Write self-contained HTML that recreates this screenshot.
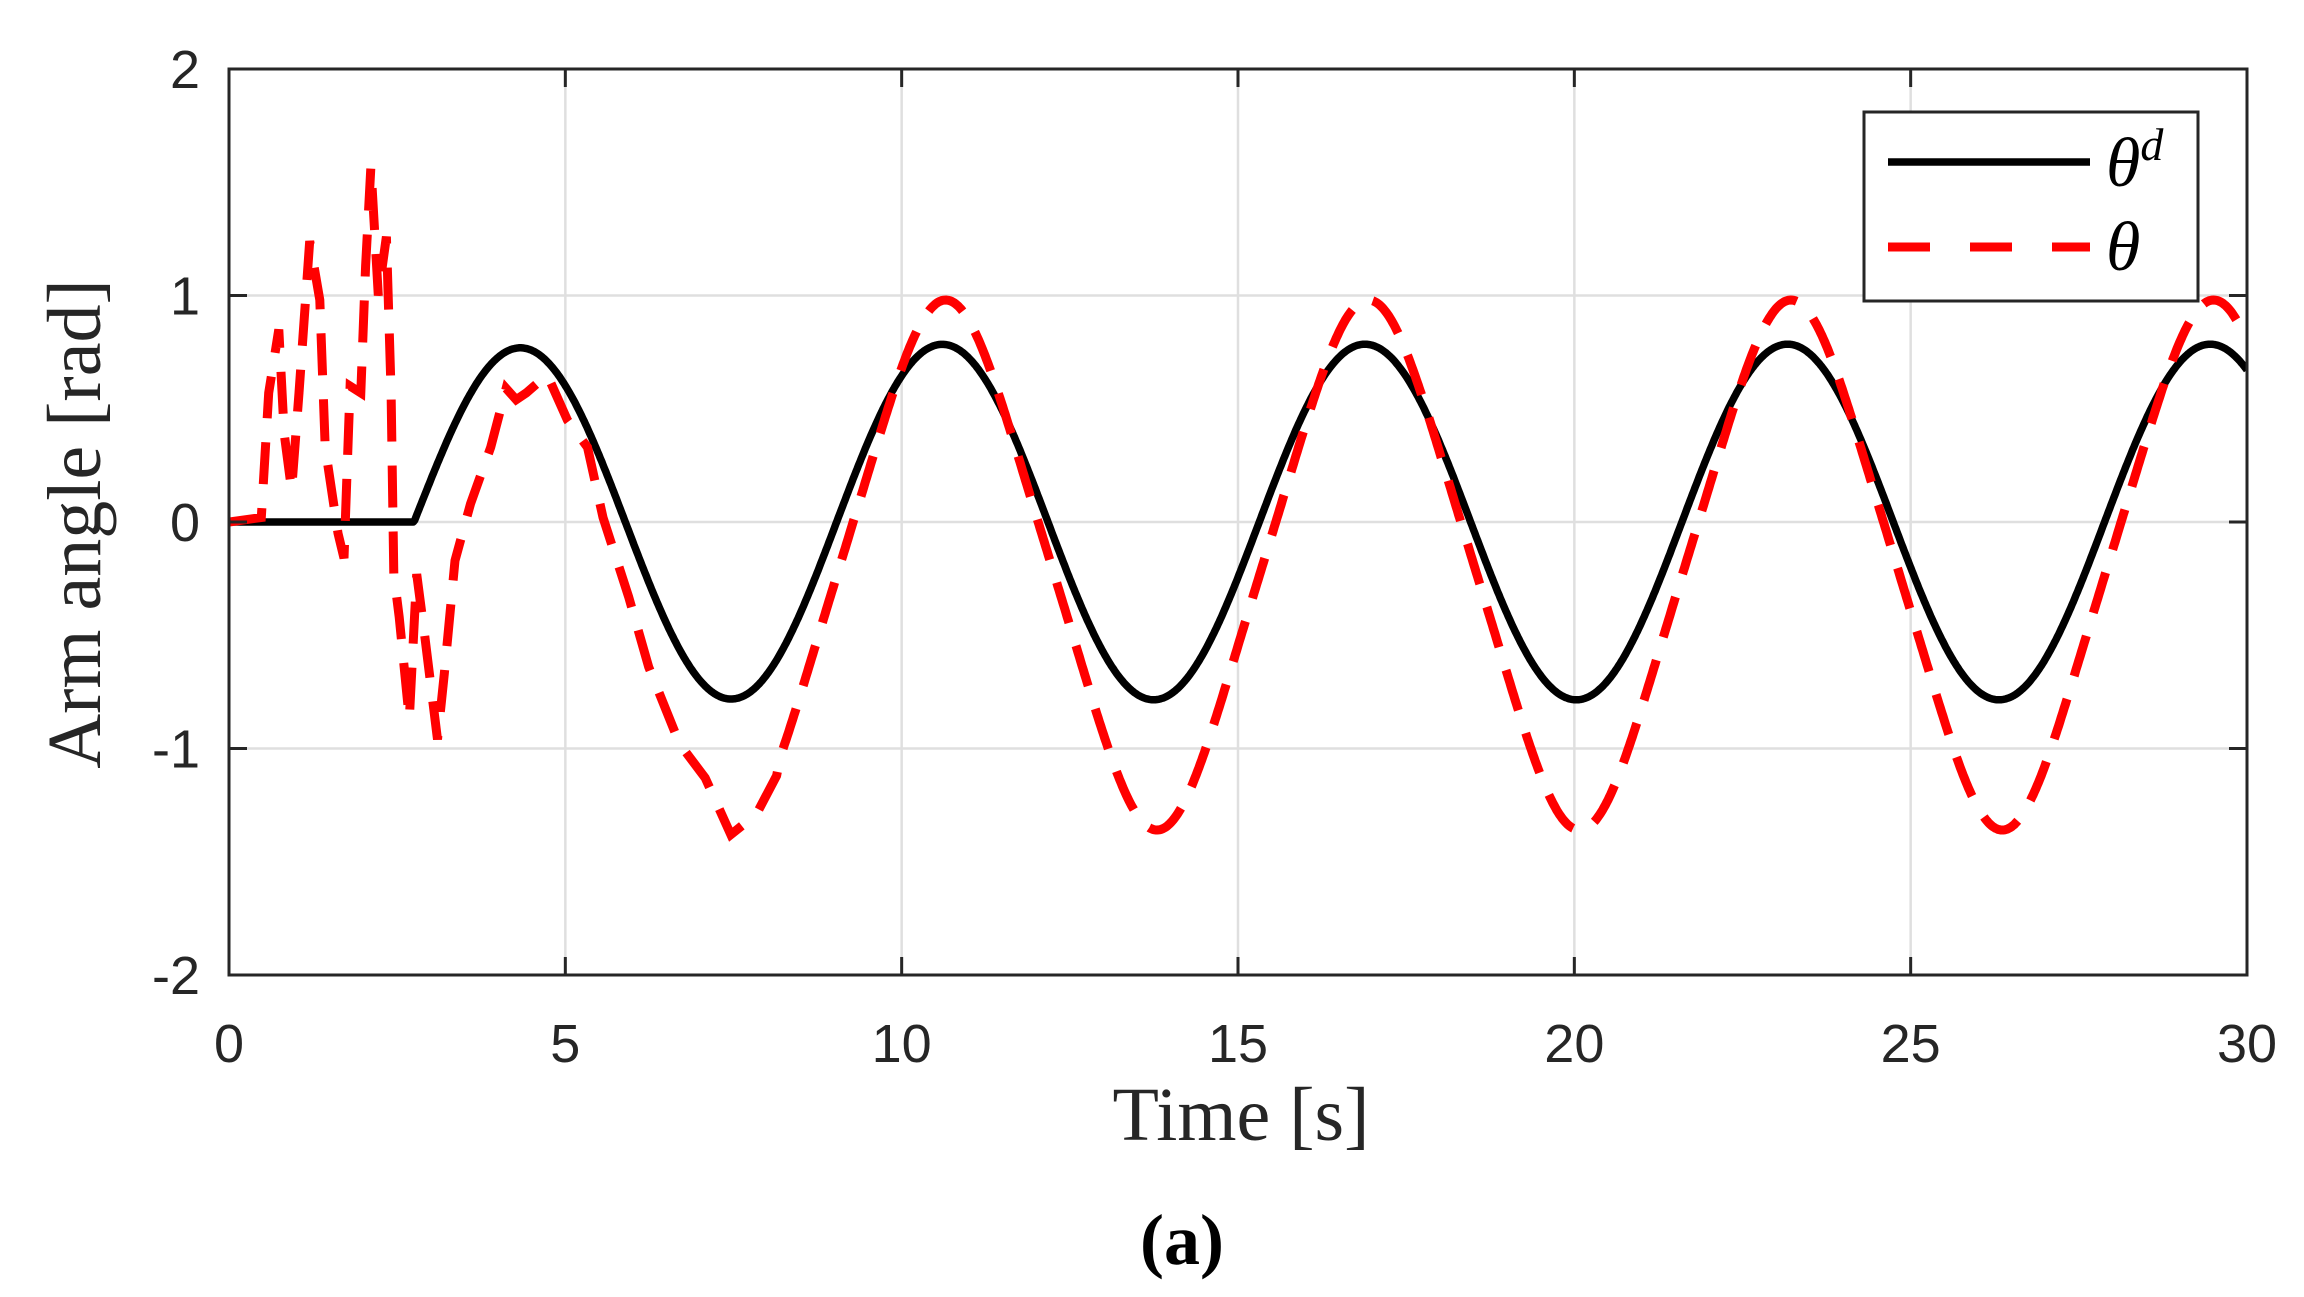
<!DOCTYPE html>
<html><head><meta charset="utf-8"><style>
html,body{margin:0;padding:0;background:#fff;width:2304px;height:1297px;overflow:hidden}
</style></head><body>
<svg id="s" width="2304" height="1297" xmlns="http://www.w3.org/2000/svg">
<defs><clipPath id="c"><rect x="229" y="69" width="2018" height="906"/></clipPath></defs>
<rect width="2304" height="1297" fill="#fff"/>
<g id="grid" stroke="#dfdfdf" stroke-width="2.5"></g>
<g clip-path="url(#c)">
<path id="bk" fill="none" stroke="#000" stroke-width="7.5" stroke-linejoin="round"/>
<path id="rd" fill="none" stroke="#ff0000" stroke-width="9" stroke-dasharray="42 24"/>
</g>
<rect x="229" y="69" width="2018" height="906" fill="none" stroke="#262626" stroke-width="3"/>
<g id="ticks" stroke="#262626" stroke-width="3"></g>
<g id="lab" font-family="Liberation Sans, sans-serif" font-size="54" fill="#262626"></g>
<text x="1241" y="1140" font-family="Liberation Serif, serif" font-size="76" fill="#262626" text-anchor="middle">Time [s]</text>
<text transform="translate(100,524) rotate(-90)" font-family="Liberation Serif, serif" font-size="76" fill="#262626" text-anchor="middle">Arm angle [rad]</text>
<text x="1182" y="1264" font-family="Liberation Serif, serif" font-size="72" font-weight="bold" fill="#000" text-anchor="middle">(a)</text>
<rect x="1864" y="112" width="334" height="189" fill="#fff" stroke="#262626" stroke-width="3"/>
<line x1="1888" y1="162" x2="2090" y2="162" stroke="#000" stroke-width="7.5"/>
<line x1="1888" y1="247" x2="2090" y2="247" stroke="#ff0000" stroke-width="9" stroke-dasharray="42 40"/>
<text x="2106" y="186" font-family="Liberation Serif, serif" font-style="italic" font-size="70" fill="#000">θ<tspan font-size="46" dy="-26">d</tspan></text>
<text x="2106" y="270" font-family="Liberation Serif, serif" font-style="italic" font-size="70" fill="#000">θ</text>
</svg>
<script>
var X=t=>229+t*2018/30, Y=v=>522-v*226.5, NS="http://www.w3.org/2000/svg";
function el(p,tag,a,txt){var e=document.createElementNS(NS,tag);for(var k in a)e.setAttribute(k,a[k]);if(txt!=null)e.textContent=txt;document.getElementById(p).appendChild(e);}
for(var i=1;i<6;i++){var x=X(i*5);el("grid","line",{x1:x,y1:69,x2:x,y2:975});el("ticks","line",{x1:x,y1:975,x2:x,y2:957});el("ticks","line",{x1:x,y1:69,x2:x,y2:87});}
for(var v=-1;v<=1;v++){var y=Y(v);el("grid","line",{x1:229,y1:y,x2:2247,y2:y});el("ticks","line",{x1:229,y1:y,x2:247,y2:y});el("ticks","line",{x1:2247,y1:y,x2:2229,y2:y});}
for(var i=0;i<=6;i++)el("lab","text",{x:X(i*5),y:1062,"text-anchor":"middle"},String(i*5));
for(var v=-2;v<=2;v++)el("lab","text",{x:200,y:Y(v)+19,"text-anchor":"end"},String(v));
var d="";for(var t=0;t<=30.01;t+=0.02){var v=t<2.75?0:0.785*(1-0.045*Math.exp(-(t-2.75)*0.5))*Math.sin(t-2.75);d+=(d?"L":"M")+X(t).toFixed(1)+" "+Y(v).toFixed(1);}
document.getElementById("bk").setAttribute("d",d);
var kp=[[0,0],[0.48,0.02],[0.59,0.57],[0.74,0.85],[0.82,0.39],[0.93,0.14],[1.04,0.57],[1.2,1.24],[1.35,0.98],[1.43,0.33],[1.62,-0.05],[1.71,-0.16],[1.8,0.6],[1.96,0.57],[2.03,1.13],[2.11,1.57],[2.22,1.0],[2.34,1.26],[2.41,0.57],[2.45,-0.23],[2.53,-0.42],[2.68,-0.87],[2.79,-0.23],[2.9,-0.48],[3.1,-0.96],[3.2,-0.67],[3.36,-0.17],[3.59,0.08],[3.89,0.33],[4.12,0.59],[4.27,0.54],[4.42,0.57],[4.73,0.65],[5.03,0.45],[5.33,0.33],[5.56,0.02],[5.94,-0.33],[6.24,-0.64],[6.7,-0.98],[7.08,-1.13],[7.46,-1.38],[7.84,-1.29],[8.14,-1.12]];
d="";kp.forEach(p=>{d+=(d?"L":"M")+X(p[0]).toFixed(1)+" "+Y(p[1]).toFixed(1);});
for(var t=8.2;t<=30.01;t+=0.02){var u=t-2.8;var s=Math.sin(u);var v=-0.19+1.12*s-0.05*Math.sin(3*u);d+="L"+X(t).toFixed(1)+" "+Y(v).toFixed(1);}
document.getElementById("rd").setAttribute("d",d);
</script>
</body></html>
